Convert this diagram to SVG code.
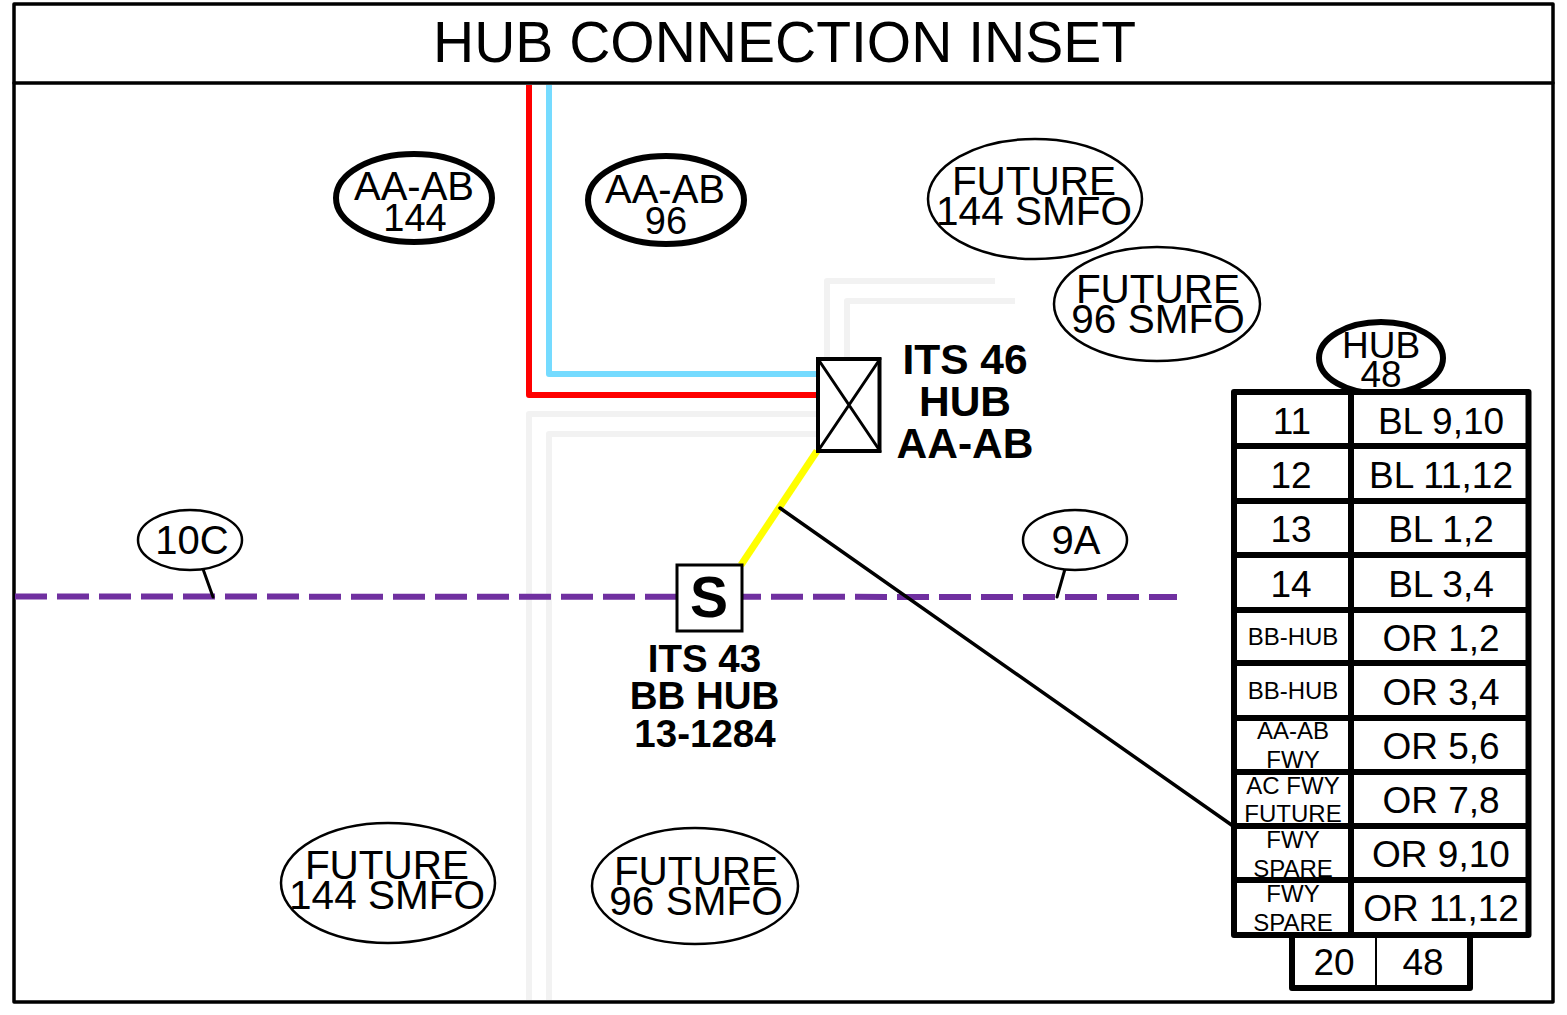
<svg xmlns="http://www.w3.org/2000/svg" width="1567" height="1015" viewBox="0 0 1567 1015">
<style>
text{font-family:"Liberation Sans",Arial,sans-serif;text-anchor:middle;fill:#000}
.o{fill:none;stroke-linejoin:round}
.g{stroke:#f2f2f2;stroke-width:6}
.e1{fill:#fff;stroke:#000;stroke-width:2.5}
.e2{fill:#fff;stroke:#000;stroke-width:6}
.t40{font-size:40px}
.t38{font-size:38px}
.f{font-size:40.5px}
.t36{font-size:37px}
.t24{font-size:24px}
.b{font-weight:bold}
.k{stroke:#000;fill:none;stroke-linecap:round;stroke-linejoin:round}
</style>
<rect width="1567" height="1015" fill="#fff"/>
<g id="frame">
<rect class="k" x="14" y="4" width="1539" height="998" stroke-width="3.5"/>
<line class="k" x1="14" y1="83" x2="1553" y2="83" stroke-width="3.5"/>
<text x="784.500" y="62" font-size="57">HUB CONNECTION INSET</text>
</g>
<g id="connectors">
<path class="o g" d="M529 1000V414H817"/>
<path class="o g" d="M549 1000V434H817"/>
<path class="o g" d="M827 359V281H995"/>
<path class="o g" d="M847 359V301H1015"/>
<path class="o" stroke="#f00" stroke-width="6" d="M529 85V395H817"/>
<path class="o" stroke="#75dbff" stroke-width="6" d="M549 85V374H817"/>
<line x1="15" y1="596.500" x2="1177" y2="597" stroke="#7030a0" stroke-width="6" stroke-dasharray="32 10"/>
<line x1="817" y1="451" x2="741" y2="565" stroke="#ff0" stroke-width="7"/>
<path class="k" stroke-width="3.500" d="M780 508L1233 826"/>
<path class="k" stroke-width="3" d="M203 569L213 597"/>
<path class="k" stroke-width="3" d="M1065 569L1057 597"/>
</g>
<g id="oval-aa-ab-144"><ellipse class="e2" cx="414" cy="198" rx="78" ry="44"/><text x="414" y="200" class="t40">AA-AB</text><text x="415" y="231" class="t38">144</text></g>
<g id="oval-aa-ab-96"><ellipse class="e2" cx="666" cy="200" rx="78" ry="44"/><text x="665" y="203" class="t40">AA-AB</text><text x="666" y="234" class="t38">96</text></g>
<g id="oval-future-144-top"><ellipse class="e1" cx="1035" cy="199" rx="107" ry="60"/><text x="1034" y="195" class="f">FUTURE</text><text x="1034" y="225" class="f">144 SMFO</text></g>
<g id="oval-future-96-top"><ellipse class="e1" cx="1157" cy="304" rx="103" ry="57"/><text x="1158" y="303" class="f">FUTURE</text><text x="1158" y="333" class="f">96 SMFO</text></g>
<g id="oval-future-144-bottom"><ellipse class="e1" cx="388" cy="883" rx="107" ry="60"/><text x="387" y="879" class="f">FUTURE</text><text x="387" y="909" class="f">144 SMFO</text></g>
<g id="oval-future-96-bottom"><ellipse class="e1" cx="695" cy="886" rx="103" ry="58"/><text x="696" y="885" class="f">FUTURE</text><text x="696" y="915" class="f">96 SMFO</text></g>
<g id="oval-10c"><ellipse class="e1" cx="190" cy="540" rx="52" ry="30"/><text x="192" y="554" class="t40">10C</text></g>
<g id="oval-9a"><ellipse class="e1" cx="1075" cy="540" rx="52" ry="30"/><text x="1076" y="554" class="t40">9A</text></g>
<g id="its-46">
<rect x="818" y="359" width="61.500" height="92" fill="#fff" stroke="#000" stroke-width="4"/>
<path class="k" stroke-width="3" d="M818 359L880 451M880 359L818 451"/>
<text x="965" y="374" class="b" style="font-size:42.500px">ITS 46</text><text x="965" y="416" class="b" style="font-size:42.500px">HUB</text><text x="965" y="458" class="b" style="font-size:42.500px">AA-AB</text>
</g>
<g id="its-43">
<rect x="677" y="565" width="65" height="66" fill="#fff" stroke="#000" stroke-width="3"/>
<text x="709" y="617" class="b" style="font-size:57px">S</text>
<text x="704.500" y="672" class="b" style="font-size:38.500px">ITS 43</text><text x="704.500" y="709" class="b" style="font-size:38.500px">BB HUB</text><text x="705" y="747" class="b" style="font-size:38.500px">13-1284</text>
</g>
<g id="hub-48"><ellipse class="e2" cx="1381" cy="358" rx="62" ry="36"/><text x="1381" y="358" class="t36">HUB</text><text x="1381" y="387" class="t36">48</text></g>
<g id="hub-table">
<rect x="1234" y="392" width="294.500" height="543" fill="#fff" stroke="#000" stroke-width="6" stroke-linejoin="round"/>
<path class="k" stroke-width="6" d="M1351 392V935M1234 446H1528M1234 501H1528M1234 555H1528M1234 610H1528M1234 663H1528M1234 718H1528M1234 772H1528M1234 826H1528M1234 880H1528"/>
<text x="1292" y="434" class="t36">11</text><text x="1441" y="434" class="t36">BL 9,10</text>
<text x="1291" y="488" class="t36">12</text><text x="1441" y="488" class="t36">BL 11,12</text>
<text x="1291" y="542" class="t36">13</text><text x="1441" y="542" class="t36">BL 1,2</text>
<text x="1291" y="597" class="t36">14</text><text x="1441" y="597" class="t36">BL 3,4</text>
<text x="1293" y="645" class="t24">BB-HUB</text><text x="1441" y="651" class="t36">OR 1,2</text>
<text x="1293" y="699" class="t24">BB-HUB</text><text x="1441" y="705" class="t36">OR 3,4</text>
<text x="1293" y="739" class="t24">AA-AB</text><text x="1293" y="768" class="t24">FWY</text><text x="1441" y="759" class="t36">OR 5,6</text>
<text x="1293" y="794" class="t24">AC FWY</text><text x="1293" y="822" class="t24">FUTURE</text><text x="1441" y="813" class="t36">OR 7,8</text>
<text x="1293" y="848" class="t24">FWY</text><text x="1293" y="877" class="t24">SPARE</text><text x="1441" y="867" class="t36">OR 9,10</text>
<text x="1293" y="902" class="t24">FWY</text><text x="1293" y="931" class="t24">SPARE</text><text x="1441" y="921" class="t36">OR 11,12</text>
</g>
<g id="hub-total">
<path class="k" stroke-width="6" d="M1292 935V988H1470V935"/>
<line x1="1376" y1="938" x2="1376" y2="985" stroke="#000" stroke-width="2"/>
<text x="1334" y="975" class="t36">20</text><text x="1423" y="975" class="t36">48</text>
</g>
</svg>
